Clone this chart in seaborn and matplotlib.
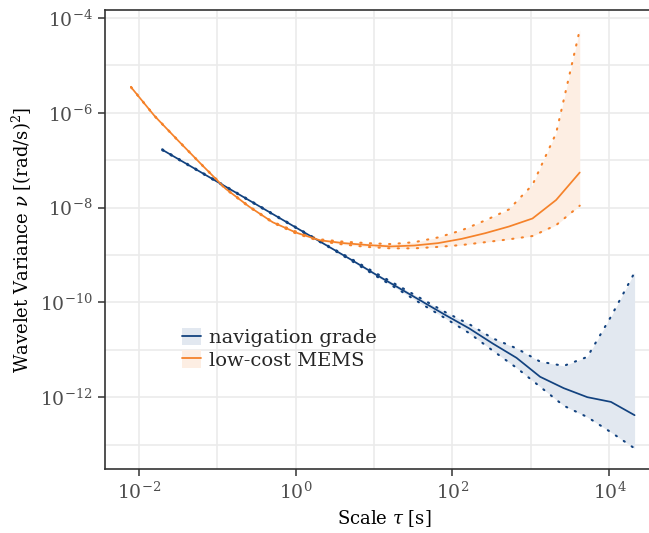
import numpy as np
import pandas as pd
import matplotlib
matplotlib.use("Agg")
import matplotlib.pyplot as plt
import matplotlib.ticker as mticker
import seaborn as sns
from matplotlib.patches import Patch
from matplotlib.lines import Line2D
from matplotlib.legend_handler import HandlerTuple

# Wavelet variance estimates (log10) at dyadic scales
nav_log_tau = [-1.699, -1.398, -1.097, -0.796, -0.495, -0.194, 0.107, 0.408, 0.709,
               1.010, 1.311, 1.612, 1.913, 2.214, 2.515, 2.816, 3.117, 3.418, 3.719,
               4.020, 4.321]
nav_log_wv = [-6.78, -7.07, -7.36, -7.65, -7.94, -8.23, -8.52, -8.81, -9.10,
              -9.40, -9.69, -9.98, -10.27, -10.55, -10.87, -11.17, -11.57, -11.81,
              -12.00, -12.10, -12.38]
nav_log_hi = [-6.77, -7.06, -7.35, -7.64, -7.93, -8.22, -8.51, -8.80, -9.08,
              -9.37, -9.65, -9.93, -10.21, -10.46, -10.76, -10.97, -11.25, -11.34,
              -11.15, -10.30, -9.37]
nav_log_lo = [-6.79, -7.08, -7.37, -7.66, -7.95, -8.24, -8.53, -8.82, -9.12,
              -9.43, -9.73, -10.04, -10.34, -10.65, -11.02, -11.38, -11.78, -12.18,
              -12.42, -12.74, -13.08]

mems_log_tau = [-2.097, -1.796, -1.495, -1.194, -0.893, -0.592, -0.291, 0.010, 0.311,
                0.612, 0.913, 1.214, 1.515, 1.816, 2.117, 2.418, 2.719, 3.020, 3.321,
                3.622]
mems_log_wv = [-5.46, -6.07, -6.59, -7.10, -7.60, -7.98, -8.31, -8.53, -8.69,
               -8.75, -8.79, -8.82, -8.80, -8.75, -8.66, -8.54, -8.40, -8.23, -7.84,
               -7.26]
mems_log_hi = [-5.455, -6.065, -6.585, -7.095, -7.59, -7.97, -8.30, -8.51, -8.67,
               -8.72, -8.75, -8.77, -8.73, -8.63, -8.48, -8.27, -8.04, -7.52, -6.43,
               -4.25]
mems_log_lo = [-5.465, -6.075, -6.595, -7.105, -7.61, -7.99, -8.32, -8.55, -8.71,
               -8.78, -8.83, -8.86, -8.86, -8.83, -8.79, -8.73, -8.67, -8.60, -8.37,
               -7.96]

sensors = ["navigation grade", "low-cost MEMS"]
line_colors = {"navigation grade": "#12427f", "low-cost MEMS": "#f5822a"}
fill_colors = {"navigation grade": "#e2e8f0", "low-cost MEMS": "#fdeee3"}

x_major = [1e-2, 1e0, 1e2, 1e4]
x_labels = [r"$10^{-2}$", r"$10^{0}$", r"$10^{2}$", r"$10^{4}$"]
y_major = [1e-12, 1e-10, 1e-8, 1e-6, 1e-4]
y_labels = [r"$10^{-12}$", r"$10^{-10}$", r"$10^{-8}$", r"$10^{-6}$", r"$10^{-4}$"]


def frame(name, lt, lw, lh, ll):
    return pd.DataFrame({
        "sensor": name,
        "tau": 10 ** np.asarray(lt),
        "wv": 10 ** np.asarray(lw),
        "hi": 10 ** np.asarray(lh),
        "lo": 10 ** np.asarray(ll),
    })


df = pd.concat([
    frame(sensors[0], nav_log_tau, nav_log_wv, nav_log_hi, nav_log_lo),
    frame(sensors[1], mems_log_tau, mems_log_wv, mems_log_hi, mems_log_lo),
], ignore_index=True)

sns.set_theme(style="white")
plt.rcParams["font.family"] = ["DejaVu Serif"]
plt.rcParams["mathtext.fontset"] = "dejavuserif"

fig = plt.figure(figsize=(6.49, 5.33), dpi=100)
ax = fig.add_axes([0.1618, 0.1201, 0.8618, 0.8612])

# confidence bands
for name in sensors:
    d = df[df["sensor"] == name]
    ax.fill_between(d["tau"], d["lo"], d["hi"], color=fill_colors[name],
                    linewidth=0, zorder=1)

# estimates
sns.lineplot(data=df, x="tau", y="wv", hue="sensor", hue_order=sensors,
             palette=line_colors, linewidth=1.25, legend=False, ax=ax,
             estimator=None, sort=True, zorder=4)
# band edges, dotted
for bound in ["hi", "lo"]:
    sns.lineplot(data=df, x="tau", y=bound, hue="sensor", hue_order=sensors,
                 palette=line_colors, linewidth=1.5, legend=False, ax=ax,
                 estimator=None, sort=True, linestyle=(0, (0.6, 4.0)),
                 dash_capstyle="round", zorder=3)

ax.set_xscale("log")
ax.set_yscale("log")
ax.set_xlim(10 ** -2.429, 10 ** 4.70)
ax.set_ylim(10 ** -13.515, 10 ** -3.831)

ax.xaxis.set_major_locator(mticker.FixedLocator(x_major))
ax.xaxis.set_major_formatter(mticker.FixedFormatter(x_labels))
ax.xaxis.set_minor_locator(mticker.FixedLocator([1e-1, 1e1, 1e3]))
ax.xaxis.set_minor_formatter(mticker.NullFormatter())
ax.yaxis.set_major_locator(mticker.FixedLocator(y_major))
ax.yaxis.set_major_formatter(mticker.FixedFormatter(y_labels))
ax.yaxis.set_minor_locator(mticker.FixedLocator([1e-13, 1e-11, 1e-9, 1e-7, 1e-5]))
ax.yaxis.set_minor_formatter(mticker.NullFormatter())

ax.tick_params(which="minor", length=0)
ax.tick_params(which="major", direction="out", length=5, width=1.1,
               color="#333333", labelcolor="#4d4d4d", labelsize=13.5, pad=4,
               bottom=True, left=True)

ax.grid(True, which="both", color="#ebebeb", linewidth=1.2, zorder=0)
ax.set_axisbelow(True)
for s in ax.spines.values():
    s.set_color("#333333")
    s.set_linewidth(1.2)

ax.set_xlabel(r"Scale $\tau$ [s]", fontsize=13, color="black", labelpad=4)
ax.set_ylabel(r"Wavelet Variance $\nu$ [(rad/s)$^2$]", fontsize=13,
              color="black", labelpad=4)

handles = [(Patch(facecolor=fill_colors[n], edgecolor="none"),
            Line2D([], [], color=line_colors[n], linewidth=1.3)) for n in sensors]
ax.legend(handles, sensors, handler_map={tuple: HandlerTuple(ndivide=1, pad=0)},
          loc="upper left", bbox_to_anchor=(77 / 559.3, (469 - 328) / 459),
          frameon=False, fontsize=14, handlelength=1.0, handleheight=1.0,
          handletextpad=0.4, labelspacing=0.15, borderaxespad=0, borderpad=0)

fig.savefig("out.png", dpi=100)
